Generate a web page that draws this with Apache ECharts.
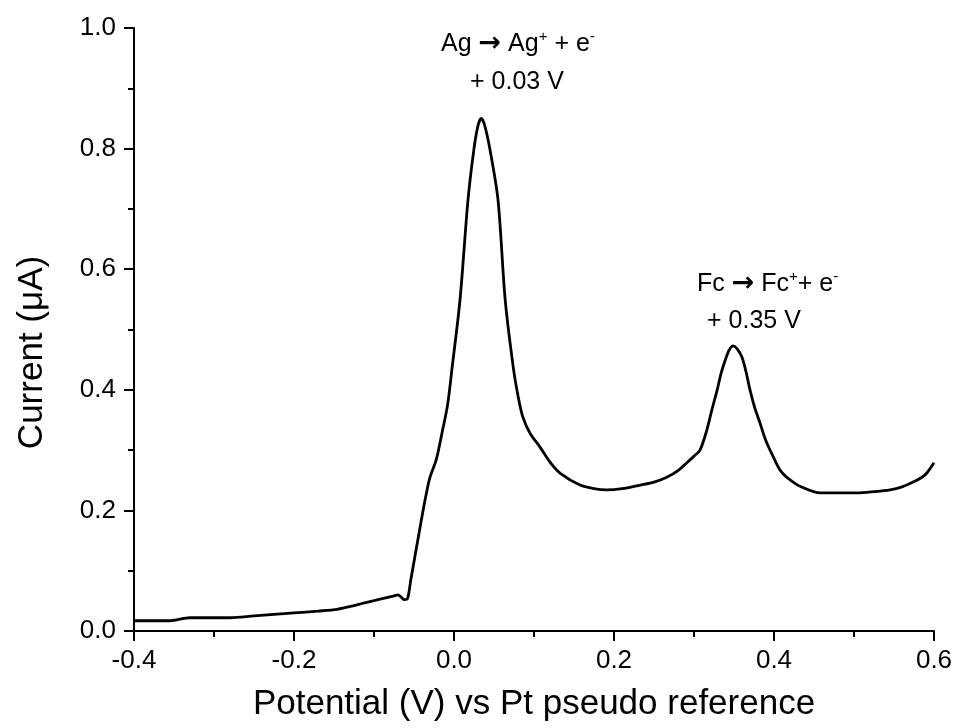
<!DOCTYPE html>
<html>
<head>
<meta charset="utf-8">
<script src="https://cdn.jsdelivr.net/npm/echarts@6/dist/echarts.min.js"></script>
<style>html,body{margin:0;padding:0;background:#fff}#c{width:957px;height:728px}</style>
</head>
<body>
<div id="c"></div>
<script>
// Potential (V) vs Pt pseudo reference
const potential = [-0.400,-0.380,-0.355,-0.330,-0.300,-0.280,-0.250,-0.200,-0.170,-0.146,-0.125,-0.114,-0.095,-0.076,-0.070,-0.066,-0.062,-0.058,-0.054,-0.050,-0.044,-0.040,-0.035,-0.030,-0.022,-0.014,-0.008,-0.0025,0.0075,0.0175,0.025,0.030,0.034,0.038,0.045,0.055,0.064,0.074,0.080,0.086,0.095,0.1075,0.120,0.1325,0.1575,0.175,0.191,0.210,0.2325,0.250,0.266,0.280,0.291,0.300,0.3075,0.316,0.322,0.329,0.334,0.339,0.344,0.349,0.354,0.360,0.365,0.370,0.376,0.3825,0.390,0.399,0.4075,0.415,0.424,0.4325,0.4575,0.480,0.504,0.525,0.545,0.560,0.574,0.585,0.591,0.600];
// Current (µA)
const current = [0.017,0.017,0.017,0.022,0.022,0.022,0.025,0.030,0.033,0.036,0.042,0.046,0.052,0.058,0.060,0.056,0.052,0.054,0.085,0.115,0.160,0.190,0.225,0.255,0.285,0.335,0.375,0.435,0.549,0.715,0.800,0.838,0.850,0.840,0.798,0.715,0.549,0.438,0.390,0.355,0.328,0.305,0.280,0.262,0.242,0.236,0.234,0.236,0.242,0.247,0.255,0.266,0.279,0.290,0.300,0.333,0.365,0.400,0.428,0.449,0.466,0.473,0.468,0.454,0.430,0.400,0.370,0.345,0.315,0.289,0.267,0.256,0.247,0.240,0.229,0.229,0.229,0.231,0.234,0.239,0.247,0.255,0.262,0.279];

const xTicks = [-0.4,-0.2,0.0,0.2,0.4,0.6];
const yTicks = [0.0,0.2,0.4,0.6,0.8,1.0];

const FONT = 'Liberation Sans, Arial, sans-serif';
const chart = echarts.init(document.getElementById('c'));
const data = potential.map((x,i)=>[x,current[i]]);

const axisCommon = {
  axisLine:{show:true,onZero:false,lineStyle:{color:'#000',width:2}},
  axisTick:{show:true,inside:false,length:10,lineStyle:{color:'#000',width:2}},
  minorTick:{show:true,splitNumber:2,length:6,lineStyle:{color:'#000',width:2}},
  splitLine:{show:false},
  axisLabel:{color:'#000',fontFamily:FONT,fontSize:26,formatter:v=>(+v).toFixed(1)},
  nameTextStyle:{color:'#000',fontFamily:FONT,fontSize:35}
};

const sup = {fontFamily:FONT,fontSize:15,verticalAlign:'top',color:'#000',lineHeight:30};
const base = {fontFamily:FONT,fontSize:25,color:'#000',lineHeight:30};
const arr = {fontFamily:'DejaVu Sans',fontSize:27,color:'#000',lineHeight:30,fontWeight:'bold'};

chart.setOption({
  animation:false,
  backgroundColor:'#fff',
  grid:{left:134,right:23,top:28,bottom:97,containLabel:false},
  xAxis:Object.assign({}, axisCommon, {
    type:'value',min:xTicks[0],max:xTicks[xTicks.length-1],interval:0.2,
    name:'Potential (V) vs Pt pseudo reference',nameLocation:'middle',nameGap:56,
    axisLabel:Object.assign({},axisCommon.axisLabel,{margin:17})
  }),
  yAxis:Object.assign({}, axisCommon, {
    type:'value',min:yTicks[0],max:yTicks[yTicks.length-1],interval:0.2,
    name:'Current (\u03bcA)',nameLocation:'middle',nameGap:84,
    nameTextStyle:Object.assign({},axisCommon.nameTextStyle,{padding:[0,46,0,0]}),
    axisLabel:Object.assign({},axisCommon.axisLabel,{margin:18})
  }),
  series:[{
    type:'line',data:data,showSymbol:false,smooth:0.3,
    lineStyle:{color:'#000',width:2.8}
  }],
  graphic:[
    {type:'text',left:441,top:29,style:{text:'{b|Ag }{a|\u2192}{b| Ag}{s|+}{b| + e}{s|-}',rich:{b:base,s:sup,a:arr}}},
    {type:'text',left:470,top:70,style:{text:'+ 0.03 V',font:'25px '+FONT,fill:'#000'}},
    {type:'text',left:697,top:269,style:{text:'{b|Fc }{a|\u2192}{b| Fc}{s|+}{b|+ e}{s|-}',rich:{b:base,s:sup,a:arr}}},
    {type:'text',left:707,top:309,style:{text:'+ 0.35 V',font:'25px '+FONT,fill:'#000'}}
  ]
});
</script>
</body>
</html>
